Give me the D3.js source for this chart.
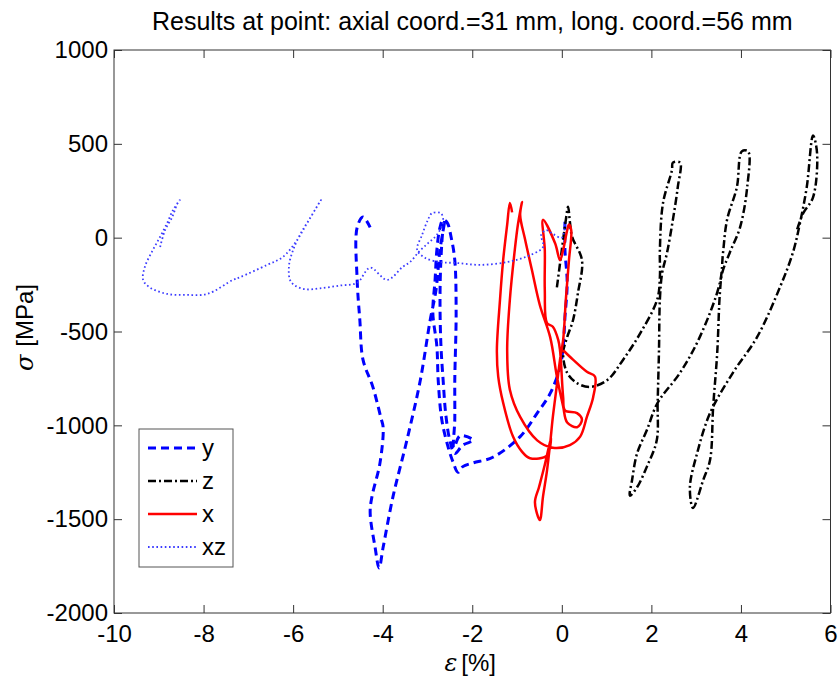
<!DOCTYPE html>
<html>
<head>
<meta charset="utf-8">
<script src="https://cdn.jsdelivr.net/npm/d3@7"></script>
<style>
  html, body { margin: 0; padding: 0; background: #fff; }
  svg { display: block; font-family: "Liberation Sans", Arial, sans-serif; }
</style>
</head>
<body>
<svg id="chart" width="839" height="677"></svg>
<script>
// ---- data (strain %, stress MPa) ----
const titleText = "Results at point: axial coord.=31 mm, long. coord.=56 mm";
const xTicks = [-10, -8, -6, -4, -2, 0, 2, 4, 6];
const yTicks = [-2000, -1500, -1000, -500, 0, 500, 1000];
const seriesNames = ["y", "z", "x", "xz"];

const ySeries = [
  [0.07,85],[0.07,-65],[0.12,-240],[0.07,-425],[0.03,-580],[-0.04,-690],[-0.26,-830],[-0.55,-935],
  [-0.93,-1060],[-1.54,-1170],[-1.98,-1200],[-2.21,-1220],[-2.32,-1250],[-2.43,-1195],[-2.54,-1115],
  [-2.68,-970],[-2.76,-760],[-2.79,-580],[-2.88,-400],[-2.83,-225],[-2.79,-65],[-2.72,55],[-2.65,95],
  [-2.56,80],[-2.47,0],[-2.39,-120],[-2.36,-400],[-2.39,-760],[-2.39,-970],[-2.41,-1120],[-2.27,-1055],
  [-1.98,-1080],[-2.21,-1105],[-2.39,-1150],[-2.50,-1080],[-2.59,-945],[-2.65,-760],[-2.70,-570],
  [-2.72,-330],[-2.70,-120],[-2.65,50],[-2.61,95],[-2.72,-65],[-2.81,-280],[-2.94,-440],[-3.16,-760],
  [-3.46,-1080],[-3.77,-1380],[-3.99,-1650],[-4.08,-1760],[-4.17,-1650],[-4.28,-1465],[-4.24,-1380],
  [-4.06,-1200],[-3.99,-1010],[-4.04,-960],[-4.22,-795],[-4.44,-650],[-4.51,-440],[-4.57,-225],
  [-4.57,55],[-4.44,110],[-4.28,55]
];

const zSeries = [
  [-0.11,-265],[0.0,-65],[0.09,95],[0.14,165],[0.18,85],[0.23,5],[0.45,-120],[0.36,-295],[0.25,-440],
  [0.12,-530],[0.03,-615],[0.12,-720],[0.34,-775],[0.63,-795],[1.01,-760],[1.37,-650],[1.75,-510],
  [2.13,-330],[2.19,-210],[2.19,-65],[2.26,185],[2.46,360],[2.48,400],[2.64,400],[2.59,270],[2.48,95],
  [2.35,-80],[2.24,-190],[2.19,-330],[2.17,-600],[2.14,-880],[2.12,-1080],[1.90,-1220],[1.68,-1330],
  [1.52,-1375],[1.57,-1290],[1.68,-1150],[1.90,-1025],[2.14,-880],[2.64,-720],[3.08,-530],[3.53,-240],
  [3.60,-80],[3.69,95],[3.91,270],[4.02,460],[4.16,460],[4.14,270],[3.98,55],[3.75,-80],[3.58,-190],
  [3.53,-295],[3.47,-615],[3.38,-900],[3.31,-1185],[3.16,-1290],[2.93,-1440],[2.86,-1330],[3.02,-1150],
  [3.31,-935],[3.82,-720],[4.36,-530],[4.87,-265],[5.16,-80],[5.32,80],[5.47,270],[5.61,545],[5.70,450],
  [5.61,215],[5.39,130],[5.25,40]
];

const xSeries = [
  [0.03,-600],[0.25,-650],[0.56,-715],[0.74,-740],[0.70,-850],[0.56,-955],[0.41,-1060],[0.18,-1105],
  [-0.20,-1120],[-0.55,-1080],[-0.93,-955],[-1.16,-810],[-1.22,-600],[-1.16,-330],[-1.05,-65],[-0.98,70],
  [-0.89,190],[-0.93,120],[-0.82,-10],[-0.67,-170],[-0.49,-360],[-0.26,-530],[-0.11,-740],[0.03,-900],
  [0.12,-985],[0.34,-1010],[0.45,-970],[0.34,-935],[0.07,-920],[0.03,-850],[-0.04,-600],[-0.08,-545],
  [-0.20,-475],[-0.33,-455],[-0.38,-280],[-0.38,-65],[-0.42,95],[-0.15,-30],[-0.04,-120],[0.03,-65],
  [0.12,40],[0.16,70],[0.21,40],[0.16,-120],[0.09,-330],[0.03,-545],[-0.04,-650],[-0.11,-785],
  [-0.20,-955],[-0.26,-1095],[-0.33,-1240],[-0.42,-1380],[-0.49,-1505],[-0.60,-1410],[-0.51,-1330],
  [-0.38,-1210],[-0.29,-1115],[-0.24,-1065],[-0.33,-1160],[-0.71,-1175],[-0.89,-1140],[-1.09,-1060],
  [-1.31,-880],[-1.42,-740],[-1.45,-600],[-1.38,-330],[-1.31,-120],[-1.22,70],[-1.16,185],[-1.11,135]
];

const xzSeries = [
  [0.07,70],[0.0,0],[-0.20,20],[-0.35,40],[-0.46,15],[-0.42,-50],[-0.78,-100],[-1.22,-130],[-1.83,-145],
  [-2.34,-135],[-2.72,-130],[-3.05,-108],[-3.23,-65],[-3.12,15],[-2.99,95],[-2.90,130],[-2.70,130],
  [-2.65,85],[-2.79,15],[-2.99,-30],[-3.19,-75],[-3.39,-130],[-3.55,-155],[-3.90,-225],[-4.28,-160],
  [-4.57,-240],[-4.95,-255],[-5.40,-270],[-5.73,-275],[-5.96,-255],[-6.07,-225],[-6.09,-145],[-6.00,-66],
  [-5.85,14],[-5.62,105],[-5.38,200],[-5.49,157],[-5.71,68],[-5.91,-12],[-6.23,-103],[-6.58,-145],
  [-7.18,-210],[-7.34,-225],[-7.92,-300],[-8.37,-305],[-8.81,-300],[-9.20,-265],[-9.35,-225],[-9.31,-155],
  [-9.13,-65],[-8.97,5],[-8.81,80],[-8.68,148],[-8.53,200],[-8.57,190],[-8.70,110],[-8.86,40],[-8.97,-50]
];

// ---- layout ----
const svg = d3.select("#chart");
const W = 839, H = 677;
const L = 114, R = 830.5, T = 50, B = 613;
const axisColor = "#333";
const fontSize = 24;

svg.append("rect").attr("width", W).attr("height", H).attr("fill", "#fff");

const x = d3.scaleLinear().domain([-10, 6]).range([L, R]);
const y = d3.scaleLinear().domain([-2000, 1000]).range([B, T]);

// title
svg.append("text").attr("x", (L + R) / 2).attr("y", 30)
  .attr("text-anchor", "middle").attr("font-size", 25).attr("fill", "#000")
  .text(titleText);

// axes
function styleAxis(g) {
  g.select(".domain").remove();
  g.selectAll(".tick line").attr("stroke", axisColor);
  g.selectAll(".tick text").attr("font-size", fontSize).attr("fill", "#000")
    .attr("font-family", "'Liberation Sans', Arial, sans-serif");
}
svg.append("g").attr("transform", `translate(0,${B})`)
  .call(d3.axisBottom(x).tickValues(xTicks).tickSizeInner(-8).tickSizeOuter(0).tickPadding(12).tickFormat(d3.format("d")))
  .call(styleAxis);
svg.append("g").attr("transform", `translate(0,${T})`)
  .call(d3.axisTop(x).tickValues(xTicks).tickSizeInner(-8).tickSizeOuter(0).tickFormat(""))
  .call(styleAxis);
svg.append("g").attr("transform", `translate(${L},0)`)
  .call(d3.axisLeft(y).tickValues(yTicks).tickSizeInner(-8).tickSizeOuter(0).tickPadding(6).tickFormat(d3.format("d")))
  .call(styleAxis);
svg.append("g").attr("transform", `translate(${R},0)`)
  .call(d3.axisRight(y).tickValues(yTicks).tickSizeInner(-8).tickSizeOuter(0).tickFormat(""))
  .call(styleAxis);

svg.selectAll(".tick text").text(function () { return d3.select(this).text().replace("−", "-"); });

svg.append("rect").attr("x", L).attr("y", T).attr("width", R - L).attr("height", B - T)
  .attr("fill", "none").attr("stroke", axisColor).attr("stroke-width", 1);

// axis labels
const xl = svg.append("text").attr("x", (L + R) / 2 - 2).attr("y", 671)
  .attr("text-anchor", "middle").attr("font-size", fontSize).attr("fill", "#000")
  .attr("xml:space", "preserve");
xl.append("tspan").attr("font-family", "'DejaVu Serif', serif").attr("font-style", "italic").text("ε");
xl.append("tspan").attr("dx", 4).text("[%]");

const yl = svg.append("text").attr("transform", `translate(33,${(T + B) / 2 - 4}) rotate(-90)`)
  .attr("text-anchor", "middle").attr("font-size", fontSize).attr("fill", "#000");
yl.append("tspan").attr("font-family", "'DejaVu Serif', serif").attr("font-style", "italic").text("σ");
yl.append("tspan").attr("dx", 8).text("[MPa]");

// series
const styles = {
  y:  { data: ySeries,  color: "#0000ff", width: 3,   dash: "8,5" },
  z:  { data: zSeries,  color: "#000000", width: 2.5, dash: "8,3,2,3" },
  x:  { data: xSeries,  color: "#ff0000", width: 2.5, dash: null },
  xz: { data: xzSeries, color: "#3b3bff", width: 1.8, dash: "1.6,2.6" }
};

svg.append("clipPath").attr("id", "plotclip")
  .append("rect").attr("x", L).attr("y", T).attr("width", R - L).attr("height", B - T);

const line = d3.line().x(d => x(d[0])).y(d => y(d[1])).curve(d3.curveCatmullRom.alpha(0.5));
const plot = svg.append("g").attr("clip-path", "url(#plotclip)");
seriesNames.forEach(n => {
  const s = styles[n];
  plot.append("path").datum(s.data)
    .attr("d", line).attr("fill", "none").attr("stroke", s.color)
    .attr("stroke-width", s.width).attr("stroke-linejoin", "round")
    .attr("stroke-dasharray", s.dash);
});

// legend
const lg = svg.append("g");
const lx = 139, ly = 429, lw = 94, lh = 138;
lg.append("rect").attr("x", lx).attr("y", ly).attr("width", lw).attr("height", lh)
  .attr("fill", "#fff").attr("stroke", "#555").attr("stroke-width", 1);
seriesNames.forEach((n, i) => {
  const s = styles[n];
  const cy = ly + 19 + i * 33;
  lg.append("line").attr("x1", lx + 9).attr("x2", lx + 58).attr("y1", cy).attr("y2", cy)
    .attr("stroke", s.color).attr("stroke-width", s.width).attr("stroke-dasharray", s.dash);
  lg.append("text").attr("x", lx + 63).attr("y", cy).attr("dy", "0.32em")
    .attr("font-size", fontSize).attr("fill", "#000").text(n);
});
</script>
</body>
</html>
